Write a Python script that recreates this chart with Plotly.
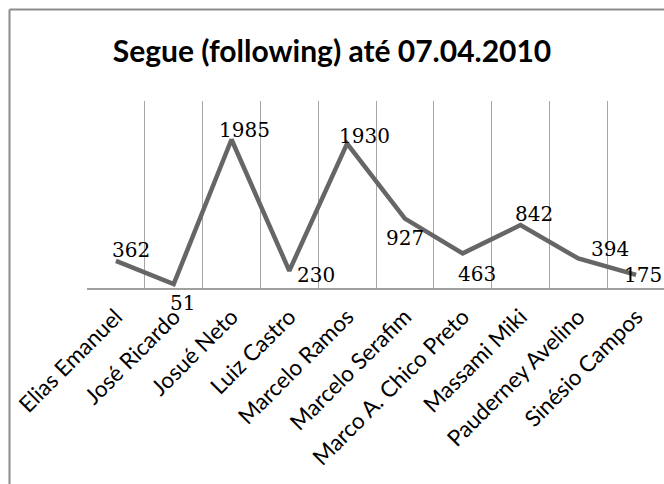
import plotly.graph_objects as go

categories = ["Elias Emanuel", "José Ricardo", "Josué Neto", "Luiz Castro", "Marcelo Ramos",
              "Marcelo Serafim", "Marco A. Chico Preto", "Massami Miki", "Pauderney Avelino",
              "Sinésio Campos"]
following = [362, 51, 1985, 230, 1930, 927, 463, 842, 394, 175]
title_text = "Segue (following) até 07.04.2010"

# label offsets in pixels (dx right, dy up)
label_dx = [15, 9, 13, 27, 17, 0, 14, 13, 32, 7]
label_dy = [11, -19, 10, -4, 8, -19, -21, 11, 10, 0]

W, H = 664, 484
ML, MR, MT, MB = 87, 0, 101, 196
pw = W - ML - MR
ph = H - MT - MB
cat_w = 57.8

fig = go.Figure()
fig.add_trace(go.Scatter(
    x=categories, y=following, mode="lines",
    line=dict(color="#666666", width=4.5),
    hoverinfo="skip", showlegend=False,
))

for c, v, dx, dy in zip(categories, following, label_dx, label_dy):
    fig.add_annotation(x=c, y=v, text=str(v), showarrow=False,
                       xshift=dx, yshift=dy,
                       font=dict(family="DejaVu Serif", size=20, color="#000000"))

# outer chart border (left and top visible)
def px_x(p):
    return (p - ML) / pw

def px_y(p):
    return (H - MB - p) / ph

fig.add_shape(type="line", xref="paper", yref="paper",
              x0=px_x(9.5), x1=px_x(9.5), y0=px_y(9.5), y1=px_y(490),
              line=dict(color="#8c8c8c", width=2))
fig.add_shape(type="line", xref="paper", yref="paper",
              x0=px_x(9.5), x1=px_x(670), y0=px_y(9.5), y1=px_y(9.5),
              line=dict(color="#8c8c8c", width=2))

fig.update_layout(
    width=W, height=H,
    margin=dict(l=ML, r=MR, t=MT, b=MB),
    paper_bgcolor="white", plot_bgcolor="white",
    title=dict(text=title_text, x=332 / W, xanchor="center", xref="container",
               y=1 - 51 / H, yanchor="middle", yref="container",
               font=dict(family="Lato", size=30, weight="bold", color="#000000")),
    xaxis=dict(type="category", tickson="boundaries",
               range=[-0.5, -0.5 + pw / cat_w],
               showgrid=True, gridcolor="#a6a6a6", gridwidth=1,
               showline=True, linecolor="#a0a0a0", linewidth=1.5,
               ticks="", tickangle=-45, ticklabelstandoff=5,
               tickfont=dict(family="Lato", size=22.5, color="#000000"),
               zeroline=False, fixedrange=True),
    yaxis=dict(range=[0, 2500], showgrid=False, showticklabels=False,
               zeroline=False, showline=False, ticks="", fixedrange=True),
)

fig.write_html("out.html", config={"displayModeBar": False},
               post_script="document.body.style.margin='0';document.body.style.overflow='hidden';")
